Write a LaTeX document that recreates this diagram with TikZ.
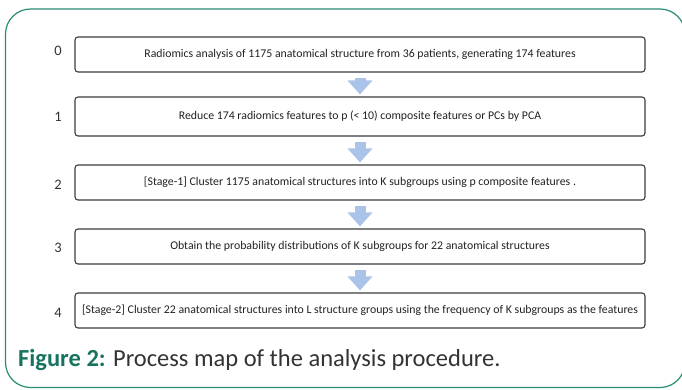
\documentclass[tikz,border=0pt]{standalone}
\usepackage{fontspec}
\setmainfont{Carlito}
\usetikzlibrary{arrows.meta}
\definecolor{frameborder}{HTML}{2B8C74}
\definecolor{captiongreen}{HTML}{17735F}
\definecolor{captiontext}{HTML}{333333}
\definecolor{boxborder}{HTML}{3C3C3C}
\definecolor{steptext}{HTML}{222222}
\definecolor{arrowfill}{HTML}{A9C4E8}
\tikzset{
  frame/.style={draw=frameborder, line width=1.2pt, rounded corners=25pt},
  stepbox/.style={rectangle, rounded corners=3pt, draw=boxborder, line width=1.1pt, fill=white,
    minimum width=570pt, minimum height=35pt, inner sep=0pt, align=center,
    font=\fontsize{11.8}{13}\selectfont, text=steptext},
  stepnum/.style={font=\fontsize{14.5}{16}\selectfont, text=captiontext, inner sep=0pt},
  blockflow/.style={draw=arrowfill, line width=11pt,
    -{Triangle[width=24pt, length=14pt]}, shorten <=5pt, shorten >=2pt},
  caption/.style={font=\fontsize{24.5}{28}\selectfont, text=captiontext, anchor=base west, inner sep=0pt}
}
\begin{document}
\begin{tikzpicture}[x=1pt, y=-1pt]
\useasboundingbox (0,0) rectangle (682,389);

\draw[frame] (5.5,9) rectangle (685,387.5);

\node[stepbox] (step0) at (360,54.5) {Radiomics analysis of 1175 anatomical structure from 36 patients, generating 174 features};
\node[stepbox, minimum height=39pt] (step1) at (360,116.5) {Reduce 174 radiomics features to p (< 10) composite features or PCs by PCA};
\node[stepbox] (step2) at (360,182.5) {[Stage-1] Cluster 1175 anatomical structures into K subgroups using p composite features .};
\node[stepbox] (step3) at (360,246.5) {Obtain the probability distributions of K subgroups for 22 anatomical structures};
\node[stepbox] (step4) at (360,310.5) {[Stage-2] Cluster 22 anatomical structures into L structure groups using the frequency of K subgroups as the features};

\node[stepnum] (num0) at (58,51) {0};
\node[stepnum] (num1) at (58,117) {1};
\node[stepnum] (num2) at (58,185) {2};
\node[stepnum] (num3) at (58,248) {3};
\node[stepnum] (num4) at (58,313) {4};

\draw[blockflow] (step0) -- (step1);
\draw[blockflow] (step1) -- (step2);
\draw[blockflow] (step2) -- (step3);
\draw[blockflow] (step3) -- (step4);

\node[caption] (figcap) at (18,366) {\textcolor{captiongreen}{\bfseries Figure 2:} Process map of the analysis procedure.};

\end{tikzpicture}
\end{document}
